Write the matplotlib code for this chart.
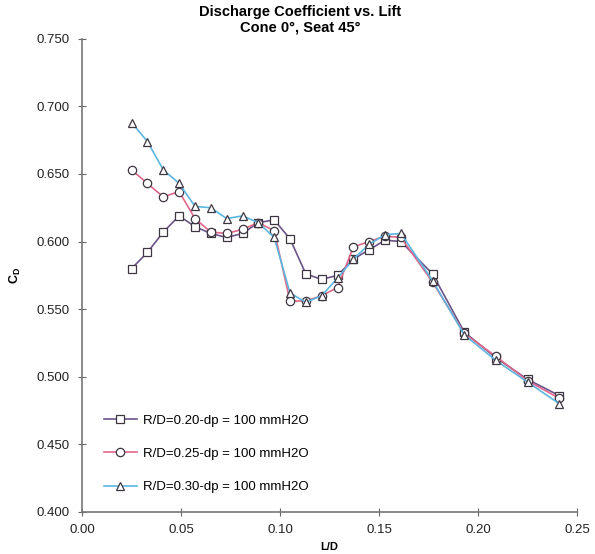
import matplotlib
matplotlib.use("Agg")
import matplotlib.pyplot as plt

plt.rcParams['font.family'] = ['Liberation Sans', 'DejaVu Sans']

# Lift / diameter ratio
lift = [0.025, 0.033, 0.041, 0.049, 0.057, 0.065, 0.073, 0.081, 0.089, 0.097,
        0.105, 0.113, 0.121, 0.129, 0.137, 0.145, 0.153, 0.161, 0.177, 0.193,
        0.209, 0.225, 0.241]

# Discharge coefficient for each R/D
cd_020 = [0.580, 0.592, 0.607, 0.619, 0.611, 0.606, 0.603, 0.606, 0.614, 0.616,
          0.602, 0.576, 0.572, 0.575, 0.587, 0.594, 0.601, 0.600, 0.576, 0.533,
          0.514, 0.498, 0.486]
cd_025 = [0.653, 0.643, 0.633, 0.637, 0.617, 0.607, 0.606, 0.609, 0.614, 0.608,
          0.556, 0.556, 0.560, 0.566, 0.596, 0.600, 0.604, 0.603, 0.570, 0.532,
          0.515, 0.497, 0.484]
cd_030 = [0.688, 0.674, 0.653, 0.643, 0.626, 0.625, 0.617, 0.619, 0.614, 0.603,
          0.562, 0.555, 0.560, 0.573, 0.587, 0.598, 0.605, 0.606, 0.571, 0.531,
          0.512, 0.496, 0.480]

labels = ["R/D=0.20-dp = 100 mmH2O",
          "R/D=0.25-dp = 100 mmH2O",
          "R/D=0.30-dp = 100 mmH2O"]

fig = plt.figure(figsize=(5.95, 5.54), dpi=100)
ax = fig.add_axes([0.138, 0.076, 0.832, 0.854])

# series: values, line colour, marker
series = [
    (cd_020, "#6b5488", "s"),
    (cd_025, "#e0668a", "o"),
    (cd_030, "#5bb6e0", "^"),
]
for (vals, col, mk), lab in zip(series, labels):
    ax.plot(lift, vals, color=col, lw=1.2, marker=mk, ms=6,
            mfc="white", mec="#3d3540", mew=0.9, label=lab)

ax.set_xlim(0.0, 0.25)
ax.set_ylim(0.400, 0.750)
ax.set_xticks([0.00, 0.05, 0.10, 0.15, 0.20, 0.25])
ax.set_yticks([0.400, 0.450, 0.500, 0.550, 0.600, 0.650, 0.700, 0.750])
ax.xaxis.set_major_formatter(plt.FormatStrFormatter('%.2f'))
ax.yaxis.set_major_formatter(plt.FormatStrFormatter('%.3f'))
ax.tick_params(direction='inout', length=6, width=0.8, color="#666666",
               labelsize=9.5, labelcolor="#222222", pad=6)

for side in ["top", "right"]:
    ax.spines[side].set_visible(False)
for side in ["left", "bottom"]:
    ax.spines[side].set_color("#777777")
    ax.spines[side].set_linewidth(1.2)

fig.text(0.505, 0.978, "Discharge Coefficient vs. Lift", ha="center", va="center",
         fontsize=10.5, fontweight="bold")
fig.text(0.505, 0.951, "Cone 0°, Seat 45°", ha="center", va="center",
         fontsize=10.5, fontweight="bold")
ax.set_xlabel("L/D", fontsize=8, fontweight="bold", labelpad=4)
ax.set_ylabel("C$_\\mathregular{D}$", fontsize=9, fontweight="bold", labelpad=10)

ax.legend(loc="lower left", bbox_to_anchor=(0.02, 0.014), frameon=False,
          fontsize=9.5, handlelength=2.5, labelspacing=1.6, handletextpad=0.5)

fig.savefig("out.png", dpi=100)
